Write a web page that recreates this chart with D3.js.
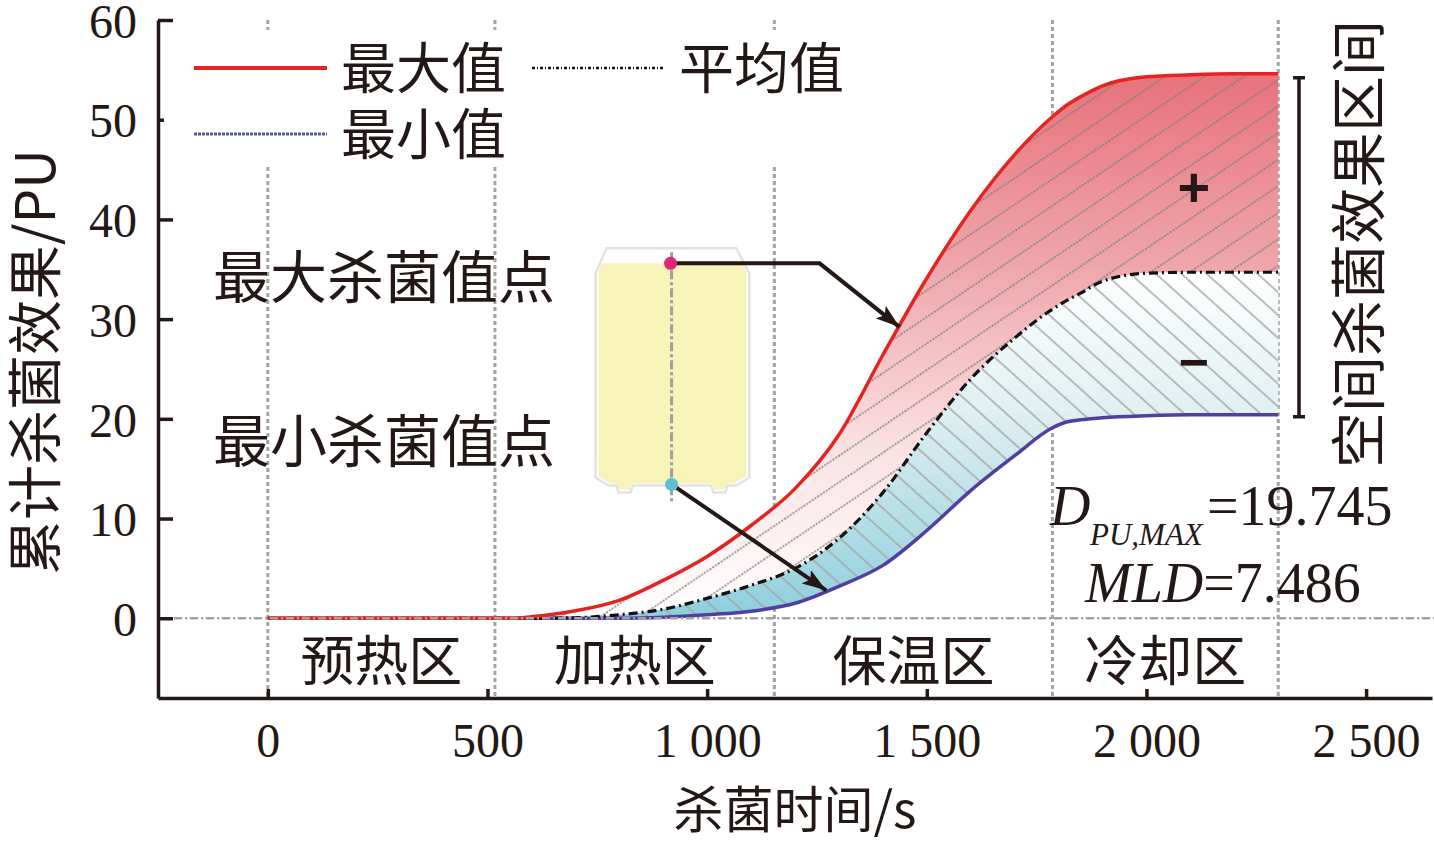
<!DOCTYPE html>
<html><head><meta charset="utf-8">
<script src="https://cdn.jsdelivr.net/npm/d3@7"></script>
<style>body{margin:0;background:#fff;overflow:hidden}</style>
</head><body>
<svg id="chart" width="1434" height="843"></svg>
<script>
// ---------- data ----------
const times     = [0, 500, 560, 600, 700, 800, 900, 1000, 1100, 1200, 1300, 1400, 1500, 1600, 1700, 1786, 1820, 1850, 1900, 2000, 2100, 2200, 2300];
const maxValues = [0, 0, 0, 0.15, 0.75, 1.8, 3.8, 6.2, 9.3, 13.0, 18.4, 26.4, 34.1, 40.9, 46.5, 50.3, 51.5, 52.3, 53.4, 54.3, 54.5, 54.6, 54.6];
const avgValues = [0, 0, 0, 0, 0.05, 0.35, 0.9, 2.0, 3.3, 5.0, 8.0, 12.6, 18.6, 24.0, 28.1, 31.0, 31.9, 32.6, 33.8, 34.6, 34.7, 34.7, 34.7];
const minValues = [0, 0, 0, 0, 0, 0, 0.1, 0.35, 0.7, 1.5, 3.2, 5.3, 8.8, 12.8, 16.3, 19.1, 19.7, 19.9, 20.1, 20.3, 20.4, 20.4, 20.4];

const xTicks = [0, 500, 1000, 1500, 2000, 2500];
const xTickLabels = ["0", "500", "1 000", "1 500", "2 000", "2 500"];
const yTicks = [0, 10, 20, 30, 40, 50, 60];
const yTickLabels = ["0", "10", "20", "30", "40", "50", "60"];

const zoneBounds = [0, 517, 1153, 1786, 2300];
const zoneNames = ["预热区", "加热区", "保温区", "冷却区"];

const legendNames = ["最大值", "平均值", "最小值"];
const xTitle = "杀菌时间/s";
const yTitle = "累计杀菌效果/PU";
const rangeTitle = "空间杀菌效果区间";
const pointNames = ["最大杀菌值点", "最小杀菌值点"];
const maxPoint = [1438, 29.2];   // arrow target on max curve (t, value)
const minPoint = [1271, 2.8];    // arrow target on min curve
const statDpu = "19.745";
const statMld = "7.486";

// ---------- setup ----------
const svg = d3.select("#chart");
const x = d3.scaleLinear().domain([-250, 2650]).range([158, 1432]);
const y = d3.scaleLinear().domain([-8, 60]).range([698, 20]);
const CJK = "'Noto Sans CJK SC', sans-serif";
const SERIF = "'Liberation Serif', 'Times New Roman', serif";
const INK = "#231815";

const rows = times.map((t, i) => ({t, max: maxValues[i], avg: avgValues[i], min: minValues[i]}));
const curve = d3.curveMonotoneX;

const defs = svg.append("defs");
const gUp = defs.append("linearGradient").attr("id", "gUp").attr("gradientUnits", "userSpaceOnUse")
  .attr("x1", 0).attr("x2", 0).attr("y1", y(54.6)).attr("y2", y(0));
[[0, "#e8727a"], [0.35, "#efa6aa"], [0.7, "#fbe3e4"], [1, "#ffffff"]].forEach(s =>
  gUp.append("stop").attr("offset", s[0]).attr("stop-color", s[1]));
const gLow = defs.append("linearGradient").attr("id", "gLow").attr("gradientUnits", "userSpaceOnUse")
  .attr("x1", 0).attr("x2", 0).attr("y1", y(34.7)).attr("y2", y(0));
[[0, "#ffffff"], [0.4, "#e0f0f3"], [1, "#8ccfdc"]].forEach(s =>
  gLow.append("stop").attr("offset", s[0]).attr("stop-color", s[1]));

const pUp = defs.append("pattern").attr("id", "hUp").attr("patternUnits", "userSpaceOnUse")
  .attr("width", 40).attr("height", 22).attr("patternTransform", "rotate(-34)");
pUp.append("line").attr("x1", 0).attr("x2", 40).attr("y1", 11).attr("y2", 11)
  .attr("stroke", "#7d7d7d").attr("stroke-width", 1.4).attr("stroke-dasharray", "2,1.3");
const pLow = defs.append("pattern").attr("id", "hLow").attr("patternUnits", "userSpaceOnUse")
  .attr("width", 40).attr("height", 17).attr("patternTransform", "rotate(42)");
pLow.append("line").attr("x1", 0).attr("x2", 40).attr("y1", 8).attr("y2", 8)
  .attr("stroke", "#a5a5a5").attr("stroke-width", 1.3);

defs.append("marker").attr("id", "arrow").attr("markerUnits", "userSpaceOnUse")
  .attr("viewBox", "0 0 24 16").attr("refX", 24).attr("refY", 8)
  .attr("markerWidth", 24).attr("markerHeight", 16).attr("orient", "auto")
  .append("path").attr("d", "M0,0 L24,8 L0,16 L5,8 Z").attr("fill", INK);

// ---------- zone dividers ----------
svg.append("g").selectAll("line").data(zoneBounds).join("line")
  .attr("x1", d => x(d)).attr("x2", d => x(d)).attr("y1", y(60)).attr("y2", y(-8))
  .attr("stroke", "#a3a3a3").attr("stroke-width", 3).attr("stroke-dasharray", "4,3");

// ---------- filled bands ----------
const areaUp = d3.area().curve(curve).x(d => x(d.t)).y0(d => y(d.avg)).y1(d => y(d.max));
const areaLow = d3.area().curve(curve).x(d => x(d.t)).y0(d => y(d.min)).y1(d => y(d.avg));
svg.append("path").datum(rows).attr("d", areaUp).attr("fill", "url(#gUp)");
svg.append("path").datum(rows).attr("d", areaUp).attr("fill", "url(#hUp)");
svg.append("path").datum(rows).attr("d", areaLow).attr("fill", "url(#gLow)");
svg.append("path").datum(rows).attr("d", areaLow).attr("fill", "url(#hLow)");

// ---------- lines ----------
const line = key => d3.line().curve(curve).x(d => x(d.t)).y(d => y(d[key]));
svg.append("path").datum(rows).attr("d", line("min")).attr("fill", "none")
  .attr("stroke", "#4f3f9f").attr("stroke-width", 3.5);
svg.append("path").datum(rows).attr("d", line("avg")).attr("fill", "none")
  .attr("stroke", "#111").attr("stroke-width", 3.2).attr("stroke-dasharray", "9,4,2,4");
svg.append("path").datum(rows).attr("d", line("max")).attr("fill", "none")
  .attr("stroke", "#e52421").attr("stroke-width", 3.5);

// zero reference line
svg.append("line").attr("x1", x(-250)).attr("x2", 1434).attr("y1", y(0)).attr("y2", y(0))
  .attr("stroke", "#a3a3a3").attr("stroke-width", 2.5).attr("stroke-dasharray", "8,3,2,3");

// ---------- axes ----------
const yAxis = d3.axisLeft(y).tickValues(yTicks).tickSize(-15).tickSizeOuter(0).tickPadding(21)
  .tickFormat((d, i) => yTickLabels[i]);
const gy = svg.append("g").attr("transform", `translate(${x(-250)},0)`).call(yAxis);
const xAxis = d3.axisBottom(x).tickValues(xTicks).tickSize(-9).tickSizeOuter(0).tickPadding(25)
  .tickFormat((d, i) => xTickLabels[i]);
const gx = svg.append("g").attr("transform", `translate(0,${y(-8)})`).call(xAxis);
[gx, gy].forEach(g => {
  g.select(".domain").attr("stroke", INK).attr("stroke-width", 3.5);
  g.selectAll(".tick line").attr("stroke", INK).attr("stroke-width", 3.5);
  g.selectAll(".tick text").attr("fill", INK).style("font-family", SERIF).style("font-size", "48px");
});
gy.selectAll(".tick text").attr("dy", "0.36em");

// axis titles
svg.append("text").attr("transform", `translate(31,362) rotate(-90)`)
  .attr("text-anchor", "middle").attr("dominant-baseline", "central")
  .style("font-family", CJK).style("font-size", "55px").attr("fill", INK).text(yTitle);
svg.append("text").attr("x", 795).attr("y", 806)
  .attr("text-anchor", "middle").attr("dominant-baseline", "central")
  .style("font-family", CJK).style("font-size", "50px").attr("fill", INK).text(xTitle);

// zone names
svg.append("g").selectAll("text").data(zoneNames).join("text")
  .attr("x", (d, i) => x((zoneBounds[i] + zoneBounds[i + 1]) / 2)).attr("y", 657)
  .attr("text-anchor", "middle").attr("dominant-baseline", "central")
  .style("font-family", CJK).style("font-size", "54px").attr("fill", INK).text(d => d);

// ---------- legend ----------
const lg = svg.append("g");
lg.append("rect").attr("x", 164).attr("y", 30).attr("width", 706).attr("height", 136).attr("fill", "#fff");
const legendRows = [
  {name: legendNames[0], x0: 194, yy: 68, stroke: "#e52421", w: 4, dash: null},
  {name: legendNames[1], x0: 532, yy: 68, stroke: "#111", w: 2.5, dash: "3,2,1,2"},
  {name: legendNames[2], x0: 194, yy: 134, stroke: "#5555a6", w: 3, dash: "3,1"}
];
legendRows.forEach(r => {
  lg.append("line").attr("x1", r.x0).attr("x2", r.x0 + 133).attr("y1", r.yy).attr("y2", r.yy)
    .attr("stroke", r.stroke).attr("stroke-width", r.w).attr("stroke-dasharray", r.dash);
  lg.append("text").attr("x", r.x0 + 147).attr("y", r.yy - 4).attr("dominant-baseline", "central")
    .style("font-family", CJK).style("font-size", "55px").attr("fill", INK).text(r.name);
});

// ---------- container illustration ----------
const bx = x(746), by = y(37.1);
const bw = x(1096) - bx, bh = y(12.6) - by;
const P = pts => "M" + pts.map(p => [bx + p[0] * bw / 154, by + p[1] * bh / 244].join(",")).join("L") + "Z";
const outer = [[11,0],[141,0],[154,25],[154,229],[141,237],[132,237],[130,244],[118,244],[116,237],[37,237],[35,244],[23,244],[21,237],[13,237],[0,229],[0,25]];
const inner = [[6,15],[148,15],[151,24],[151,228],[139,235],[131,235],[129,241],[119,241],[117,235],[37,235],[35,241],[24,241],[22,235],[15,235],[3,228],[3,24]];
svg.append("path").attr("d", P(outer)).attr("fill", "#fff").attr("stroke", "#e3e3e3").attr("stroke-width", 2.5);
svg.append("path").attr("d", P(inner)).attr("fill", "#f8f4b9");
svg.append("line").attr("x1", bx + 76).attr("x2", bx + 76).attr("y1", by + 4).attr("y2", by + 256)
  .attr("stroke", "#9e9e9e").attr("stroke-width", 3).attr("stroke-dasharray", "9,3,3,3");
const dotMax = [bx + 75, by + 15], dotMin = [bx + 76, by + 236];

// arrows
svg.append("path").attr("d", `M${dotMax[0]},${dotMax[1]}L${x(1256)},${dotMax[1]}L${x(maxPoint[0])},${y(maxPoint[1])}`)
  .attr("fill", "none").attr("stroke", INK).attr("stroke-width", 4).attr("marker-end", "url(#arrow)");
svg.append("path").attr("d", `M${dotMin[0]},${dotMin[1]}L${x(minPoint[0])},${y(minPoint[1])}`)
  .attr("fill", "none").attr("stroke", INK).attr("stroke-width", 4).attr("marker-end", "url(#arrow)");
svg.append("circle").attr("cx", dotMax[0]).attr("cy", dotMax[1]).attr("r", 6.5).attr("fill", "#e2247a");
svg.append("circle").attr("cx", dotMin[0]).attr("cy", dotMin[1]).attr("r", 6.5).attr("fill", "#5cc1d2");

// point labels
svg.append("text").attr("x", 213).attr("y", 273).attr("dominant-baseline", "central")
  .style("font-family", CJK).style("font-size", "57px").attr("fill", INK).text(pointNames[0]);
svg.append("text").attr("x", 213).attr("y", 437).attr("dominant-baseline", "central")
  .style("font-family", CJK).style("font-size", "57px").attr("fill", INK).text(pointNames[1]);

// ---------- range bracket ----------
const bxr = 1299, yTop = y(maxValues[maxValues.length - 1]) + 4, yBot = y(minValues[minValues.length - 1]) + 2;
svg.append("path").attr("d", `M${bxr - 6},${yTop}H${bxr + 6}M${bxr},${yTop}V${yBot}M${bxr - 6},${yBot}H${bxr + 6}`)
  .attr("fill", "none").attr("stroke", INK).attr("stroke-width", 3.5);
svg.append("text").attr("transform", `translate(1354,244) rotate(-90)`)
  .attr("text-anchor", "middle").attr("dominant-baseline", "central")
  .style("font-family", CJK).style("font-size", "56px").attr("fill", INK).text(rangeTitle);

// plus / minus
svg.append("text").attr("x", x(2108)).attr("y", y(43.3)).attr("text-anchor", "middle").attr("dominant-baseline", "central")
  .style("font-family", "'Liberation Sans', sans-serif").style("font-size", "56px").style("font-weight", "bold").attr("fill", INK).text("+");
svg.append("text").attr("x", x(2108)).attr("y", y(25.7)).attr("text-anchor", "middle").attr("dominant-baseline", "central")
  .style("font-family", "'Liberation Sans', sans-serif").style("font-size", "52px").style("font-weight", "bold").attr("fill", INK).text("−");

// ---------- statistics ----------
const st = svg.append("g").style("font-family", SERIF).attr("fill", INK);
const t1 = st.append("text").attr("y", 525).style("font-size", "56px");
t1.append("tspan").attr("x", 1050).style("font-style", "italic").text("D");
t1.append("tspan").attr("x", 1090).attr("dy", 20).style("font-style", "italic").style("font-size", "31px").text("PU,MAX");
t1.append("tspan").attr("x", 1207).attr("dy", -20).text("=" + statDpu);
const t2 = st.append("text").attr("x", 1085).attr("y", 602).style("font-size", "56px");
t2.append("tspan").style("font-style", "italic").text("MLD");
t2.append("tspan").text("=" + statMld);
</script>
</body></html>
